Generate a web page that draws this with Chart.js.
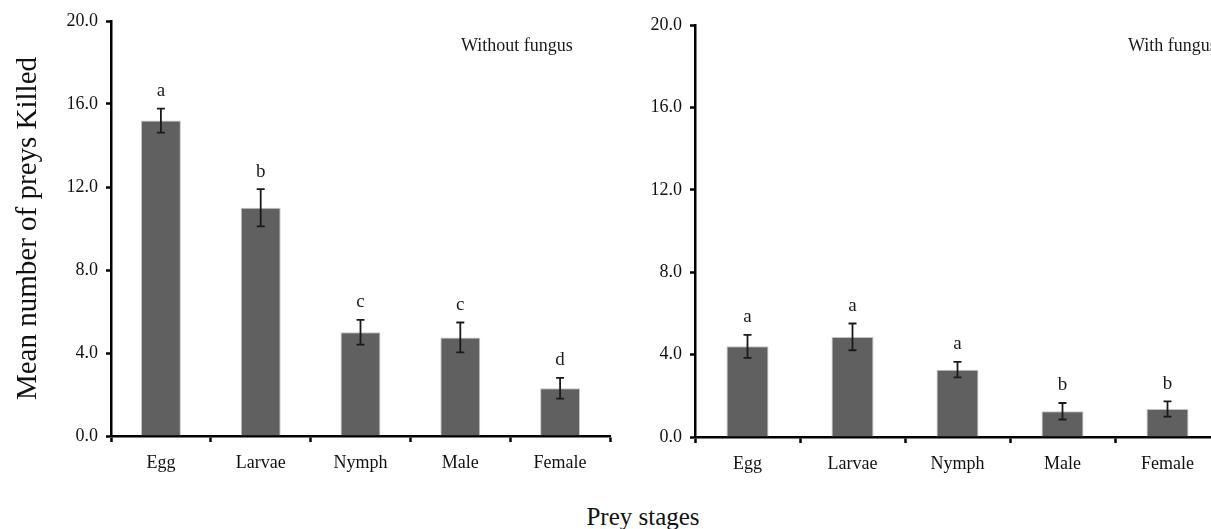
<!DOCTYPE html>
<html>
<head>
<meta charset="utf-8">
<script src="https://cdn.jsdelivr.net/npm/chart.js@4.4.1/dist/chart.umd.min.js"></script>
<style>
  body { margin: 0; background: #fff; width: 1211px; height: 529px; overflow: hidden; position: relative; }
  canvas { position: absolute; top: 0; }
  #left { left: 0; }
  #right { left: 640px; }
  #xtitle { position: absolute; left: 0; width: 1286px; top: 503px; text-align: center;
            font-family: "Liberation Serif", serif; font-size: 25px; color: #111; }
</style>
</head>
<body>
<canvas id="left" width="630" height="476"></canvas>
<canvas id="right" width="600" height="477"></canvas>
<div id="xtitle">Prey stages</div>
<script>
const stages = ['Egg', 'Larvae', 'Nymph', 'Male', 'Female'];
const yTicks = [0, 4, 8, 12, 16, 20];

const withoutMeans = [15.2, 11.0, 5.0, 4.75, 2.3];
const withoutErr = [0.58, 0.9, 0.6, 0.72, 0.5];
const withoutLetters = ['a', 'b', 'c', 'c', 'd'];

const withMeans = [4.4, 4.86, 3.27, 1.25, 1.36];
const withErr = [0.56, 0.65, 0.38, 0.4, 0.37];
const withLetters = ['a', 'a', 'a', 'b', 'b'];

const serif = '"Liberation Serif", "Times New Roman", serif';

// error bars, significance letters and panel label
const errorBars = {
    id: 'errorBars',
    afterDatasetsDraw(chart, args, opts) {
        const ctx = chart.ctx;
        const meta = chart.getDatasetMeta(0);
        const y = chart.scales.y;
        const vals = chart.data.datasets[0].data;
        ctx.save();
        ctx.strokeStyle = '#1a1a1a';
        ctx.fillStyle = '#1a1a1a';
        ctx.lineWidth = 1.8;
        ctx.font = '19px ' + serif;
        ctx.textAlign = 'center';
        ctx.textBaseline = 'bottom';
        meta.data.forEach((bar, i) => {
            const top = y.getPixelForValue(vals[i] + opts.err[i]);
            const bot = y.getPixelForValue(vals[i] - opts.err[i]);
            ctx.beginPath();
            ctx.moveTo(bar.x, top); ctx.lineTo(bar.x, bot);
            ctx.moveTo(bar.x - 4, top); ctx.lineTo(bar.x + 4, top);
            ctx.moveTo(bar.x - 4, bot); ctx.lineTo(bar.x + 4, bot);
            ctx.stroke();
            ctx.fillText(opts.letters[i], bar.x, top - 8);
        });
        ctx.textAlign = 'left';
        ctx.textBaseline = 'middle';
        ctx.font = '18px ' + serif;
        ctx.fillText(opts.label, opts.labelX, 46);
        ctx.restore();
    }
};

function makeChart(id, means, err, letters, label, labelX, yWidth, padTop, showTitle) {
    return new Chart(document.getElementById(id), {
        type: 'bar',
        data: {
            labels: stages,
            datasets: [{
                data: means,
                backgroundColor: '#606060',
                borderColor: '#c4c4c4',
                borderWidth: 1,
                barPercentage: 0.4,
                categoryPercentage: 1
            }]
        },
        options: {
            responsive: false,
            animation: false,
            layout: { padding: { top: padTop, right: 20, left: 0, bottom: 0 } },
            plugins: {
                legend: { display: false },
                tooltip: { enabled: false },
                errorBars: { err: err, letters: letters, label: label, labelX: labelX }
            },
            scales: {
                x: {
                    afterFit: s => { s.height = 40; },
                    border: { display: true, color: '#000', width: 2.5 },
                    grid: { drawOnChartArea: false, color: '#000', tickLength: 6, tickWidth: 2.5, offset: true },
                    ticks: { color: '#111', padding: 10, font: { family: serif, size: 18 } }
                },
                y: {
                    min: 0,
                    max: 20,
                    afterFit: s => { s.width = yWidth; },
                    afterBuildTicks: s => { s.ticks = yTicks.map(v => ({ value: v })); },
                    border: { display: true, color: '#000', width: 2.5 },
                    grid: { drawOnChartArea: false, color: '#000', tickLength: 5, tickWidth: 2.5 },
                    ticks: {
                        color: '#111', padding: 8, font: { family: serif, size: 18 },
                        callback: v => v.toFixed(1)
                    },
                    title: {
                        display: showTitle,
                        text: 'Mean number of preys Killed',
                        color: '#111',
                        font: { family: serif, size: 29 },
                        padding: { top: 11, bottom: 0 }
                    }
                }
            }
        },
        plugins: [errorBars]
    });
}

makeChart('left', withoutMeans, withoutErr, withoutLetters, 'Without fungus', 461, 111, 21, true);
makeChart('right', withMeans, withErr, withLetters, 'With fungus', 488, 55, 25, false);
</script>
</body>
</html>
